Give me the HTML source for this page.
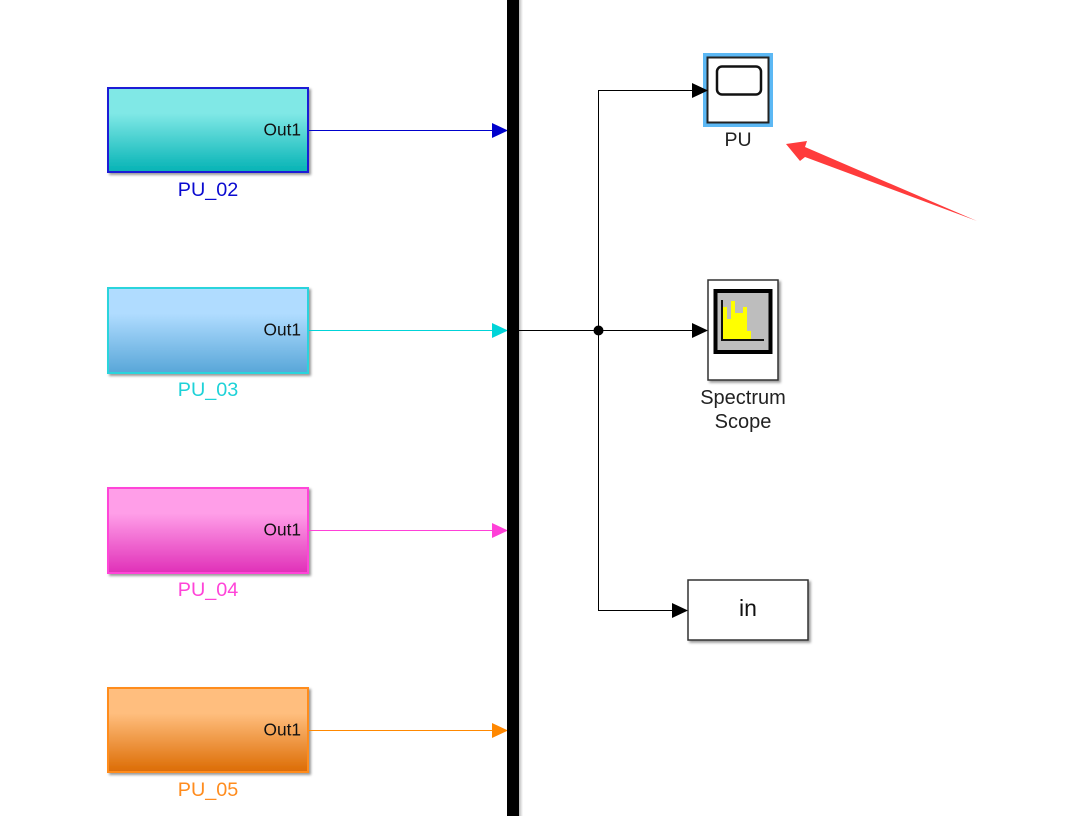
<!DOCTYPE html>
<html><head><meta charset="utf-8"><style>
html,body{margin:0;padding:0;background:#fff}
svg{display:block}
text{font-family:"Liberation Sans",sans-serif}
</style></head><body>
<svg width="1068" height="816" viewBox="0 0 1068 816" xmlns="http://www.w3.org/2000/svg">
<defs>
<linearGradient id="g1" x1="0" y1="0" x2="0" y2="1"><stop offset="0" stop-color="#80e8e6"/><stop offset=".3" stop-color="#80e8e6"/><stop offset="1" stop-color="#05b3b5"/></linearGradient>
<linearGradient id="g2" x1="0" y1="0" x2="0" y2="1"><stop offset="0" stop-color="#b0dcff"/><stop offset=".3" stop-color="#b0dcff"/><stop offset="1" stop-color="#58a6d8"/></linearGradient>
<linearGradient id="g3" x1="0" y1="0" x2="0" y2="1"><stop offset="0" stop-color="#ff9ee8"/><stop offset=".3" stop-color="#ff9ee8"/><stop offset="1" stop-color="#e030b8"/></linearGradient>
<linearGradient id="g4" x1="0" y1="0" x2="0" y2="1"><stop offset="0" stop-color="#ffbe7e"/><stop offset=".3" stop-color="#ffbe7e"/><stop offset="1" stop-color="#dc6c04"/></linearGradient>
<filter id="s" x="-10%" y="-10%" width="125%" height="125%"><feDropShadow dx="2" dy="2" stdDeviation="1.2" flood-color="#000" flood-opacity=".4"/></filter>
<linearGradient id="bs" x1="0" y1="0" x2="1" y2="0"><stop offset="0" stop-color="#bbb"/><stop offset="1" stop-color="#fff"/></linearGradient>
</defs>

<!-- Source blocks -->
<g font-size="17.300">
<rect x="108" y="88" width="200" height="84" fill="url(#g1)" stroke="#1d1dd6" stroke-width="2" filter="url(#s)"/>
<text x="301" y="135.500" text-anchor="end" fill="#111">Out1</text>
<line x1="309" y1="130.500" x2="493" y2="130.500" stroke="#0000cc"/>
<polygon points="492,123 508,130.500 492,138" fill="#0000cc"/>
<text x="208" y="196" text-anchor="middle" font-size="19.800" fill="#0a0ad0">PU_02</text>

<rect x="108" y="288" width="200" height="85" fill="url(#g2)" stroke="#2ad4dc" stroke-width="2" filter="url(#s)"/>
<text x="301" y="335.500" text-anchor="end" fill="#111">Out1</text>
<line x1="309" y1="330.500" x2="493" y2="330.500" stroke="#00d4d8"/>
<polygon points="492,323 508,330.500 492,338" fill="#00d4d8"/>
<text x="208" y="396" text-anchor="middle" font-size="19.800" fill="#1ed2d8">PU_03</text>

<rect x="108" y="488" width="200" height="85" fill="url(#g3)" stroke="#ff44d8" stroke-width="2" filter="url(#s)"/>
<text x="301" y="535.500" text-anchor="end" fill="#111">Out1</text>
<line x1="309" y1="530.500" x2="493" y2="530.500" stroke="#ff40d8"/>
<polygon points="492,523 508,530.500 492,538" fill="#ff40d8"/>
<text x="208" y="596" text-anchor="middle" font-size="19.800" fill="#ff44d8">PU_04</text>

<rect x="108" y="688" width="200" height="84" fill="url(#g4)" stroke="#ff8c1e" stroke-width="2" filter="url(#s)"/>
<text x="301" y="735.500" text-anchor="end" fill="#111">Out1</text>
<line x1="309" y1="730.500" x2="493" y2="730.500" stroke="#ff8800"/>
<polygon points="492,723 508,730.500 492,738" fill="#ff8800"/>
<text x="208" y="796" text-anchor="middle" font-size="19.800" fill="#ff8c1e">PU_05</text>
</g>

<!-- Bus bar -->
<rect x="519" y="0" width="4" height="816" fill="url(#bs)"/>
<rect x="507" y="0" width="12" height="816" fill="#000"/>

<!-- Branch wires -->
<g stroke="#000" fill="none">
<line x1="519" y1="330.500" x2="694" y2="330.500"/>
<polyline points="598.500,330 598.500,90.500 694,90.500"/>
<polyline points="598.500,330 598.500,610.500 674,610.500"/>
</g>
<circle cx="598.500" cy="330.500" r="5" fill="#000"/>

<!-- PU scope -->
<rect x="703" y="53" width="70" height="74" fill="#5cb8f4"/>
<rect x="707.500" y="57.500" width="61" height="65" fill="#fff" stroke="#222" stroke-width="2"/>
<rect x="717" y="66.500" width="44" height="28" rx="5" ry="5" fill="#fff" stroke="#111" stroke-width="2.500"/>
<text x="738" y="146" text-anchor="middle" font-size="19.500" fill="#222">PU</text>

<!-- Spectrum Scope -->
<rect x="708" y="280" width="70" height="100" fill="#fff" stroke="#333" stroke-width="1.500" filter="url(#s)"/>
<rect x="715.500" y="291" width="55" height="61" fill="#bdbdbd" stroke="#000" stroke-width="4"/>
<polygon points="723,339 723,307 727,307 727,319 731,319 731,301 735,301 735,313 743,313 743,307 747,307 747,331 751,331 751,339" fill="#ff0"/>
<polyline points="722,300 722,340 764,340" fill="none" stroke="#111" stroke-width="2"/>
<text x="743" y="404" text-anchor="middle" font-size="20" fill="#222">Spectrum</text>
<text x="743" y="428" text-anchor="middle" font-size="20" fill="#222">Scope</text>

<!-- in block -->
<rect x="688" y="580" width="120" height="60" fill="#fff" stroke="#333" stroke-width="1.500" filter="url(#s)"/>
<text x="748" y="616" text-anchor="middle" font-size="23" fill="#111">in</text>

<!-- Arrowheads into blocks -->
<polygon points="692,83 708,90.500 692,98" fill="#000"/>
<polygon points="692,323 708,330.500 692,338" fill="#000"/>
<polygon points="672,603 688,610.500 672,618" fill="#000"/>

<!-- Red arrow -->
<polygon points="786,144 807,141 805,147 977,221 805,157 800,161" fill="#ff3c3c"/>
</svg>
</body></html>
